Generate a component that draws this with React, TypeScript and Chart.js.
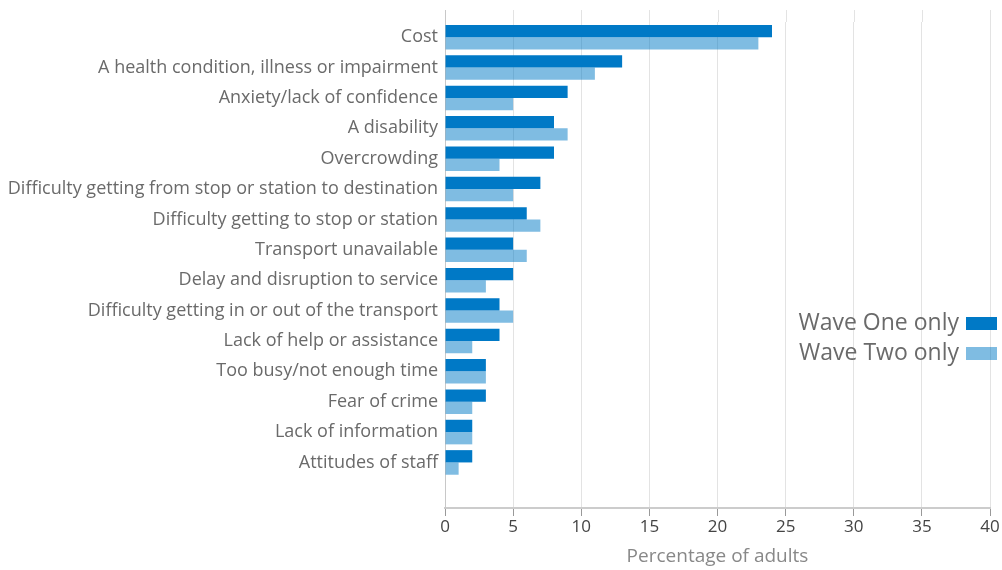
import React, { useEffect, useRef } from "react";
import { Chart, registerables } from "chart.js";

Chart.register(...registerables);

const CATEGORIES = [
  "Cost",
  "A health condition, illness or impairment",
  "Anxiety/lack of confidence",
  "A disability",
  "Overcrowding",
  "Difficulty getting from stop or station to destination",
  "Difficulty getting to stop or station",
  "Transport unavailable",
  "Delay and disruption to service",
  "Difficulty getting in or out of the transport",
  "Lack of help or assistance",
  "Too busy/not enough time",
  "Fear of crime",
  "Lack of information",
  "Attitudes of staff",
];

const WAVE_ONE = [24, 13, 9, 8, 8, 7, 6, 5, 5, 4, 4, 3, 3, 2, 2];
const WAVE_TWO = [23, 11, 5, 9, 4, 5, 7, 6, 3, 5, 2, 3, 2, 2, 1];

const SERIES_NAMES = ["Wave One only", "Wave Two only"];
const X_TITLE = "Percentage of adults";

const DARK = "rgb(0,121,198)";
const LIGHT = "rgba(0,121,198,0.5)";
const FONT = "'Open Sans', 'Noto Sans', sans-serif";

const gridExtend = {
  id: "gridExtend",
  beforeDatasetsDraw(chart: any) {
    const { ctx, chartArea, scales } = chart;
    const xs = scales.x;
    ctx.save();
    ctx.lineWidth = 1;
    xs.ticks.forEach((t: any, i: number) => {
      const px = Math.round(xs.getPixelForTick(i)) + 0.5;
      ctx.strokeStyle = i === 0 ? "#c8c8c8" : "#e3e3e3";
      ctx.beginPath();
      ctx.moveTo(px, 10);
      ctx.lineTo(px, chartArea.top);
      ctx.stroke();
    });
    ctx.restore();
  },
};

const sideLegend = {
  id: "sideLegend",
  afterDraw(chart: any) {
    const { ctx } = chart;
    ctx.save();
    ctx.font = `23px ${FONT}`;
    ctx.textAlign = "right";
    ctx.textBaseline = "middle";
    const items = chart.data.datasets;
    items.forEach((ds: any, i: number) => {
      const cy = 323.5 + i * 30;
      ctx.fillStyle = ds.backgroundColor;
      ctx.fillRect(966, cy - 6.5, 31, 13);
      ctx.fillStyle = "#6a6a6a";
      ctx.fillText(ds.label, 959, cy);
    });
    ctx.restore();
  },
};

export default function App() {
  const ref = useRef<HTMLCanvasElement | null>(null);

  useEffect(() => {
    document.body.style.margin = "0";
    if (!ref.current) return;
    const labels = [...CATEGORIES, ""];
    const chart = new Chart(ref.current, {
      type: "bar",
      data: {
        labels,
        datasets: [
          {
            label: SERIES_NAMES[0],
            data: [...WAVE_ONE, null],
            backgroundColor: DARK,
            categoryPercentage: 0.81,
            barPercentage: 1.0,
          },
          {
            label: SERIES_NAMES[1],
            data: [...WAVE_TWO, null],
            backgroundColor: LIGHT,
            categoryPercentage: 0.81,
            barPercentage: 1.0,
          },
        ],
      },
      options: {
        indexAxis: "y",
        animation: false,
        responsive: false,
        maintainAspectRatio: false,
        layout: { padding: { top: 22, right: 12, left: 0, bottom: 0 } },
        plugins: {
          legend: { display: false },
          tooltip: { enabled: false },
        },
        scales: {
          x: {
            min: 0,
            max: 40,
            ticks: {
              stepSize: 5,
              color: "#444",
              font: { family: FONT, size: 17 },
              padding: 1,
            },
            grid: {
              color: "#e3e3e3",
              tickColor: "#999",
              tickLength: 8,
              drawTicks: true,
            },
            border: { display: true, color: "#cccccc", width: 2 },
            title: {
              display: true,
              text: X_TITLE,
              color: "#888",
              font: { family: FONT, size: 19 },
              padding: { top: 0, bottom: 2 },
            },
            afterFit(scale: any) {
              scale.height = 62;
            },
          },
          y: {
            ticks: {
              color: "#6a6a6a",
              font: { family: FONT, size: 18 },
              padding: 7,
              autoSkip: false,
            },
            grid: { display: false, drawTicks: false },
            border: { display: true, color: "#c8c8c8", width: 1 },
            afterFit(scale: any) {
              scale.width = 445;
            },
          },
        },
      },
      plugins: [gridExtend, sideLegend],
    });
    return () => chart.destroy();
  }, []);

  return (
    <div style={{ width: 1002, height: 570 }}>
      <canvas ref={ref} width={1002} height={570} style={{ display: "block", width: 1002, height: 570 }} />
    </div>
  );
}
